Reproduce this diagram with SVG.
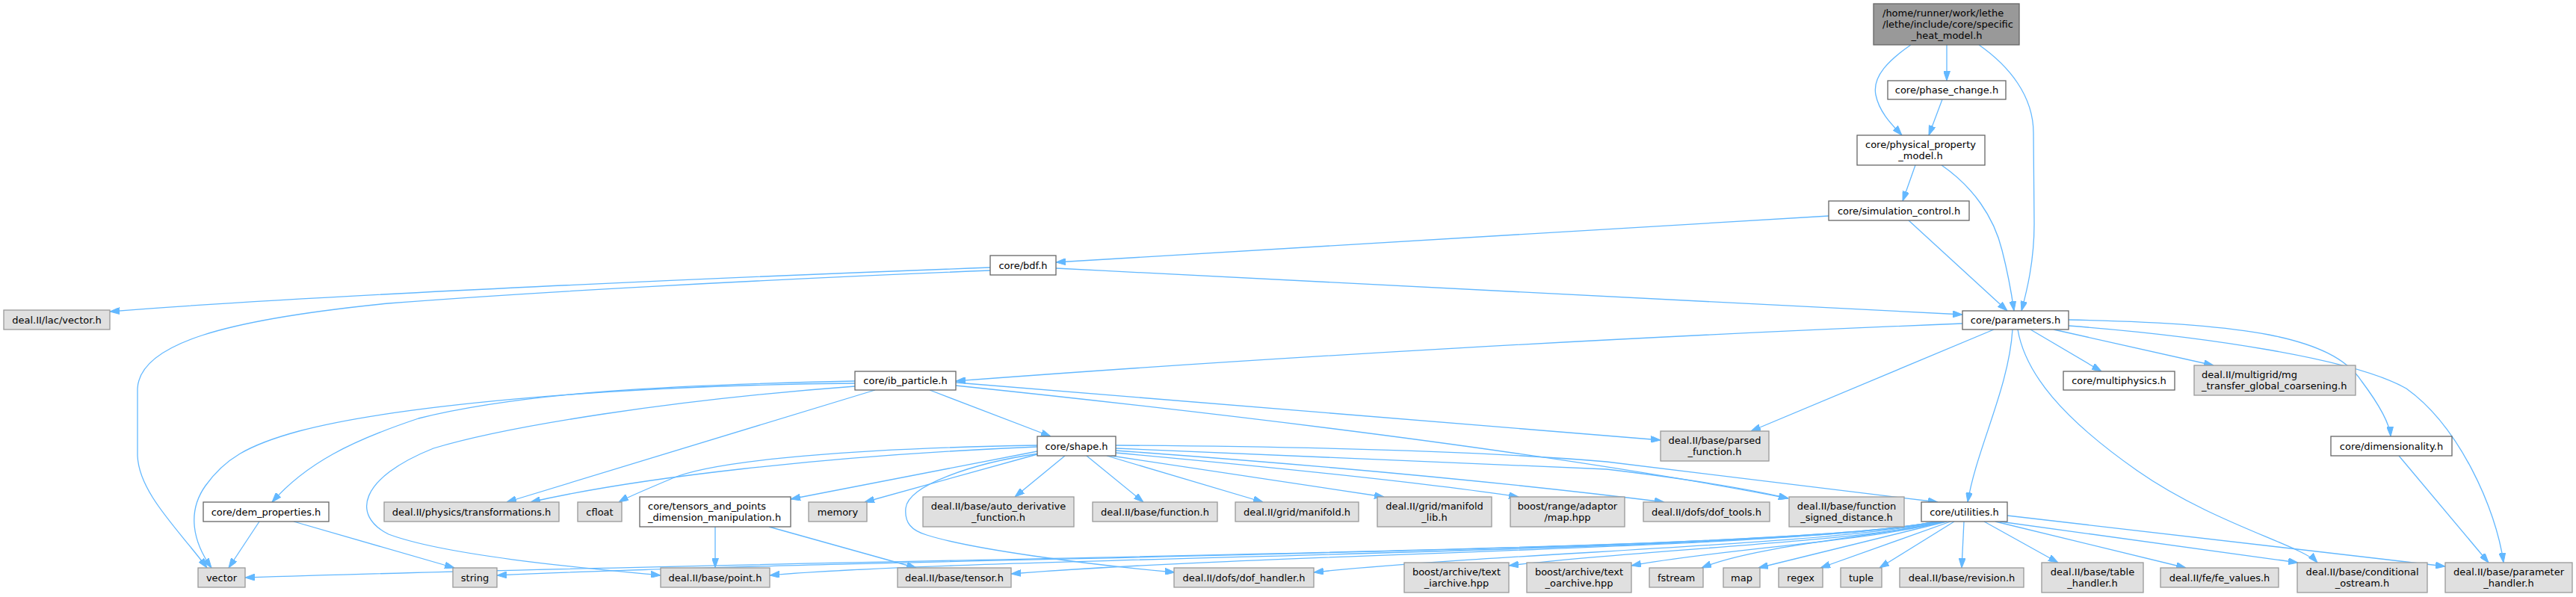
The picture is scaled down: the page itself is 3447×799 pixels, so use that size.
<svg xmlns="http://www.w3.org/2000/svg" width="3447" height="799" viewBox="0 0 3447 799">
<style>
.w rect{fill:#ffffff;stroke:#666666;stroke-width:1.3}
.g rect{fill:#e0e0e0;stroke:#999999;stroke-width:1.3}
.r rect{fill:#999999;stroke:#666666;stroke-width:1.3}
text{font-family:"DejaVu Sans","Liberation Sans",sans-serif;font-size:13px;fill:#000000;text-anchor:middle}
text.l{text-anchor:start}
#edges path{fill:none;stroke:#63b8ff;stroke-width:1.3;marker-end:url(#a)}
</style>
<defs>
<marker id="a" viewBox="0 0 13 9" refX="13" refY="4.5" markerWidth="13" markerHeight="9" orient="auto" markerUnits="userSpaceOnUse"><path d="M0,0 L13,4.5 L0,9 z" fill="#63b8ff" stroke="#63b8ff"/></marker>
</defs>
<rect width="3447" height="799" fill="#ffffff"/>
<g id="edges">
<path d="M2605,60 L2605,108"/>
<path d="M2557,60 C2528,80 2505,102 2510,127 C2515,152 2535,170 2545,181"/>
<path d="M2648,60 C2688,88 2721,128 2721,178 L2722,300 C2722,350 2712,390 2705,416"/>
<path d="M2599,133 L2581,181"/>
<path d="M2563,221 L2546,269"/>
<path d="M2598,221 C2640,250 2668,290 2679,335 C2688,370 2692,395 2695,416"/>
<path d="M2554,295 L2686,416"/>
<path d="M2447,289 L1413,351"/>
<path d="M1413,359 C1900,384 2400,410 2626,421"/>
<path d="M1325,358 C1000,370 420,395 147,417"/>
<path d="M1325,362 C1000,375 700,392 520,406 C300,428 187,460 184,520 L184,610 C186,660 240,710 277,760"/>
<path d="M2626,433 C2200,450 1700,478 1279,510"/>
<path d="M2668,441 L2343,577"/>
<path d="M2693,441 C2688,520 2645,600 2633,672"/>
<path d="M2700,441 C2710,500 2760,560 2860,630 C2960,700 3080,730 3101,753"/>
<path d="M2717,441 L2812,497"/>
<path d="M2748,441 L2962,489"/>
<path d="M2768,428 C3000,432 3120,450 3160,510 C3190,550 3198,570 3199,584"/>
<path d="M2768,436 C2950,450 3150,480 3220,520 C3290,570 3340,680 3350,753"/>
<path d="M3210,610 L3330,753"/>
<path d="M1144,513 C800,516 520,545 400,577 C330,596 300,615 275,650 C250,685 258,725 283,760"/>
<path d="M1144,510 C900,515 700,525 560,560 C470,590 410,620 364,672"/>
<path d="M1144,517 C900,535 680,570 580,600 C480,640 470,690 520,715 C600,745 800,762 884,770"/>
<path d="M1171,522 L678,672"/>
<path d="M1244,522 L1406,584"/>
<path d="M1279,512 L2222,589"/>
<path d="M1279,516 C1700,560 2100,610 2393,667"/>
<path d="M1493,596 C1800,598 2000,605 2150,618 L2593,672"/>
<path d="M1493,600 C1800,612 2100,625 2150,628 C2250,640 2330,652 2393,667"/>
<path d="M1493,603 C1800,625 2050,650 2227,672"/>
<path d="M1493,606 C1700,625 1900,645 2032,665"/>
<path d="M1487,610 L1852,665"/>
<path d="M1481,610 L1690,672"/>
<path d="M1454,610 L1530,672"/>
<path d="M1425,610 L1358,665"/>
<path d="M1390,607 C1300,620 1215,650 1212,680 C1210,700 1220,710 1240,716 C1300,735 1450,755 1572,766"/>
<path d="M1388,598 C1100,610 850,640 710,672"/>
<path d="M1388,596 C1150,600 960,615 900,640 C865,655 840,665 828,672"/>
<path d="M1388,604 L1058,668"/>
<path d="M1388,608 L1157,672"/>
<path d="M957,705 L957,760"/>
<path d="M1029,705 L1226,760"/>
<path d="M347,698 L306,760"/>
<path d="M393,698 L608,760"/>
<path d="M2590,698 C2400,740 1200,745 328,773"/>
<path d="M2590,698 C2400,740 1200,745 665,770"/>
<path d="M2592,698 C2400,740 1300,745 1030,770"/>
<path d="M2593,698 C2400,735 1700,740 1353,768"/>
<path d="M2595,698 C2450,730 2000,740 1758,766"/>
<path d="M2597,698 C2500,725 2200,735 2019,757"/>
<path d="M2600,698 C2500,725 2300,735 2183,757"/>
<path d="M2603,698 C2500,720 2350,730 2277,760"/>
<path d="M2605,698 L2353,760"/>
<path d="M2610,698 L2436,760"/>
<path d="M2615,698 L2515,760"/>
<path d="M2628,698 L2625,760"/>
<path d="M2655,698 L2754,753"/>
<path d="M2670,698 L2925,760"/>
<path d="M2676,698 L3075,753"/>
<path d="M2686,690 L3272,758"/>
</g>
<g id="n_top" class="r"><rect x="2507" y="5" width="195" height="55"/><text class="l" x="2519" y="21.5">/home/runner/work/lethe</text><text class="l" x="2519" y="36.5">/lethe/include/core/specific</text><text x="2605" y="51.5">_heat_model.h</text></g>
<g id="n_phase" class="w"><rect x="2526" y="108" width="158" height="25"/><text x="2605" y="125">core/phase_change.h</text></g>
<g id="n_phys" class="w"><rect x="2485" y="181" width="171" height="40"/><text x="2570" y="197.5">core/physical_property</text><text x="2570" y="212.5">_model.h</text></g>
<g id="n_sim" class="w"><rect x="2447" y="269" width="188" height="26"/><text x="2541" y="286.5">core/simulation_control.h</text></g>
<g id="n_bdf" class="w"><rect x="1325" y="342" width="88" height="26"/><text x="1369" y="359.5">core/bdf.h</text></g>
<g id="n_lacvec" class="g"><rect x="5" y="415" width="142" height="26"/><text x="76" y="432.5">deal.II/lac/vector.h</text></g>
<g id="n_params" class="w"><rect x="2626" y="416" width="142" height="25"/><text x="2697" y="433">core/parameters.h</text></g>
<g id="n_ib" class="w"><rect x="1144" y="497" width="135" height="25"/><text x="1211.5" y="514">core/ib_particle.h</text></g>
<g id="n_multi" class="w"><rect x="2761" y="497" width="149" height="25"/><text x="2835.5" y="514">core/multiphysics.h</text></g>
<g id="n_mg" class="g"><rect x="2936" y="489" width="216" height="40"/><text class="l" x="2946" y="505.5">deal.II/multigrid/mg</text><text class="l" x="2946" y="520.5">_transfer_global_coarsening.h</text></g>
<g id="n_parsed" class="g"><rect x="2222" y="577" width="145" height="40"/><text x="2294.5" y="593.5">deal.II/base/parsed</text><text x="2294.5" y="608.5">_function.h</text></g>
<g id="n_shape" class="w"><rect x="1388" y="584" width="105" height="26"/><text x="1440.5" y="601.5">core/shape.h</text></g>
<g id="n_dim" class="w"><rect x="3119" y="584" width="162" height="26"/><text x="3200" y="601.5">core/dimensionality.h</text></g>
<g id="n_dem" class="w"><rect x="272" y="672" width="168" height="26"/><text x="356" y="689.5">core/dem_properties.h</text></g>
<g id="n_transf" class="g"><rect x="514" y="672" width="234" height="26"/><text x="631" y="689.5">deal.II/physics/transformations.h</text></g>
<g id="n_cfloat" class="g"><rect x="773" y="672" width="59" height="26"/><text x="802.5" y="689.5">cfloat</text></g>
<g id="n_tensors" class="w"><rect x="856" y="665" width="202" height="40"/><text class="l" x="867" y="681.5">core/tensors_and_points</text><text class="l" x="867" y="696.5">_dimension_manipulation.h</text></g>
<g id="n_memory" class="g"><rect x="1082" y="672" width="78" height="26"/><text x="1121" y="689.5">memory</text></g>
<g id="n_autoderiv" class="g"><rect x="1235" y="665" width="202" height="40"/><text x="1336" y="681.5">deal.II/base/auto_derivative</text><text x="1336" y="696.5">_function.h</text></g>
<g id="n_function" class="g"><rect x="1462" y="672" width="167" height="26"/><text x="1545.5" y="689.5">deal.II/base/function.h</text></g>
<g id="n_manifold" class="g"><rect x="1653" y="672" width="165" height="26"/><text x="1735.5" y="689.5">deal.II/grid/manifold.h</text></g>
<g id="n_manifoldlib" class="g"><rect x="1843" y="665" width="153" height="40"/><text x="1919.5" y="681.5">deal.II/grid/manifold</text><text x="1919.5" y="696.5">_lib.h</text></g>
<g id="n_mapadaptor" class="g"><rect x="2021" y="665" width="153" height="40"/><text x="2097.5" y="681.5">boost/range/adaptor</text><text x="2097.5" y="696.5">/map.hpp</text></g>
<g id="n_doftools" class="g"><rect x="2199" y="672" width="169" height="26"/><text x="2283.5" y="689.5">deal.II/dofs/dof_tools.h</text></g>
<g id="n_fsd" class="g"><rect x="2394" y="665" width="154" height="40"/><text x="2471" y="681.5">deal.II/base/function</text><text x="2471" y="696.5">_signed_distance.h</text></g>
<g id="n_utilities" class="w"><rect x="2571" y="672" width="115" height="26"/><text x="2628.5" y="689.5">core/utilities.h</text></g>
<g id="n_vector" class="g"><rect x="265" y="760" width="63" height="26"/><text x="296.5" y="777.5">vector</text></g>
<g id="n_string" class="g"><rect x="606" y="760" width="59" height="26"/><text x="635.5" y="777.5">string</text></g>
<g id="n_point" class="g"><rect x="884" y="760" width="146" height="26"/><text x="957" y="777.5">deal.II/base/point.h</text></g>
<g id="n_tensor" class="g"><rect x="1201" y="760" width="152" height="26"/><text x="1277" y="777.5">deal.II/base/tensor.h</text></g>
<g id="n_dofhandler" class="g"><rect x="1571" y="760" width="187" height="26"/><text x="1664.5" y="777.5">deal.II/dofs/dof_handler.h</text></g>
<g id="n_iarchive" class="g"><rect x="1879" y="753" width="140" height="40"/><text x="1949" y="769.5">boost/archive/text</text><text x="1949" y="784.5">_iarchive.hpp</text></g>
<g id="n_oarchive" class="g"><rect x="2043" y="753" width="140" height="40"/><text x="2113" y="769.5">boost/archive/text</text><text x="2113" y="784.5">_oarchive.hpp</text></g>
<g id="n_fstream" class="g"><rect x="2207" y="760" width="72" height="26"/><text x="2243" y="777.5">fstream</text></g>
<g id="n_map" class="g"><rect x="2306" y="760" width="49" height="26"/><text x="2330.5" y="777.5">map</text></g>
<g id="n_regex" class="g"><rect x="2380" y="760" width="59" height="26"/><text x="2409.5" y="777.5">regex</text></g>
<g id="n_tuple" class="g"><rect x="2463" y="760" width="55" height="26"/><text x="2490.5" y="777.5">tuple</text></g>
<g id="n_revision" class="g"><rect x="2542" y="760" width="166" height="26"/><text x="2625" y="777.5">deal.II/base/revision.h</text></g>
<g id="n_table" class="g"><rect x="2732" y="753" width="136" height="40"/><text x="2800" y="769.5">deal.II/base/table</text><text x="2800" y="784.5">_handler.h</text></g>
<g id="n_fevalues" class="g"><rect x="2891" y="760" width="158" height="26"/><text x="2970" y="777.5">deal.II/fe/fe_values.h</text></g>
<g id="n_condostream" class="g"><rect x="3074" y="753" width="174" height="40"/><text x="3161" y="769.5">deal.II/base/conditional</text><text x="3161" y="784.5">_ostream.h</text></g>
<g id="n_paramhandler" class="g"><rect x="3272" y="753" width="170" height="40"/><text x="3357" y="769.5">deal.II/base/parameter</text><text x="3357" y="784.5">_handler.h</text></g>
</svg>
